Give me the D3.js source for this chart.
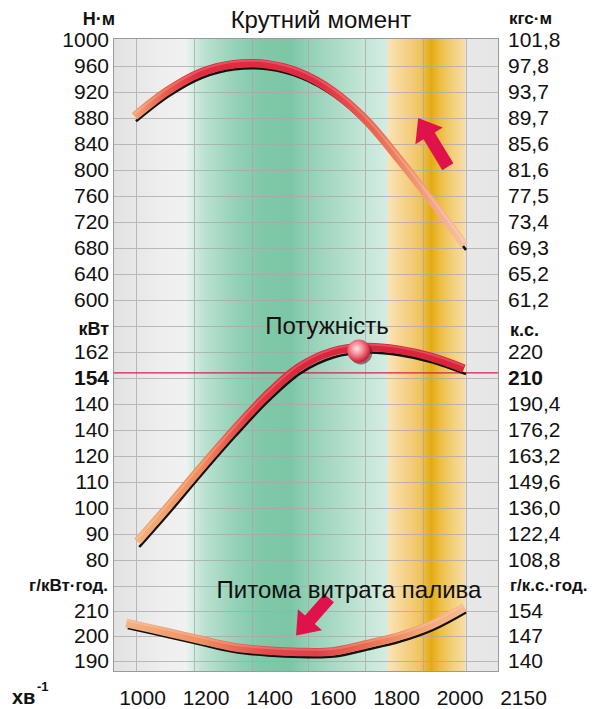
<!DOCTYPE html>
<html>
<head>
<meta charset="utf-8">
<script src="https://cdn.jsdelivr.net/npm/d3@7"></script>
<style>
  body { margin: 0; background: #fff; }
  svg { display: block; }
  text { font-family: "Liberation Sans", Arial, sans-serif; fill: #111; }
</style>
</head>
<body>
<svg id="chart" width="609" height="709"></svg>
<script>
// x axis
const rpmLabels = ['1000', '1200', '1400', '1600', '1800', '2000', '2150'];
const gridRpm = [1000, 1175, 1350, 1520, 1695, 1870, 2000];

// torque, N·m
const torqueRpm = [1000, 1100, 1200, 1300, 1400, 1500, 1600, 1700, 1800, 1900, 2000];
const torqueNm = [875, 914, 942, 955, 955, 942, 914, 870, 810, 745, 677];
const torqueTicks = [1000, 960, 920, 880, 840, 800, 760, 720, 680, 640, 600];
const torqueLeft = ['1000', '960', '920', '880', '840', '800', '760', '720', '680', '640', '600'];
const torqueRight = ['101,8', '97,8', '93,7', '89,7', '85,6', '81,6', '77,5', '73,4', '69,3', '65,2', '61,2'];

// power, kW
const powerRpm = [1010, 1100, 1200, 1300, 1400, 1500, 1600, 1700, 1800, 1900, 2000];
const powerKw = [85, 98, 113, 127.5, 141, 152, 158, 159.8, 158.8, 156, 151.5];
const powerTicks = [160, 150, 140, 130, 120, 110, 100, 90, 80];
const powerLeft = ['162', '154', '140', '140', '120', '110', '100', '90', '80'];
const powerRight = ['220', '210', '190,4', '176,2', '163,2', '149,6', '136,0', '122,4', '108,8'];
const powerLimit = 152;
const powerPeak = [1675, 160.4];

// specific fuel consumption, g/kW·h
const fuelRpm = [975, 1100, 1200, 1300, 1400, 1500, 1600, 1700, 1800, 1900, 2000];
const fuelG = [203.2, 199.5, 196.5, 193.6, 192.2, 191.6, 191.8, 194.6, 197.8, 202.5, 209.5];
const fuelTicks = [210, 200, 190];
const fuelLeft = ['210', '200', '190'];
const fuelRight = ['154', '147', '140'];

const plot = { left: 113, right: 499, top: 38, bottom: 672 };

const svg = d3.select('#chart');
const defs = svg.append('defs');

const x = d3.scaleLinear().domain([1000, 2000]).range([136, 466]);
const xLab = d3.scalePoint().domain(rpmLabels).range([142, 523]);
const yT = d3.scaleLinear().domain([600, 1000]).range([300, 40]);
const yP = d3.scaleLinear().domain([80, 160]).range([560, 352]);
const yF = d3.scaleLinear().domain([190, 210]).range([661, 611]);

function hGradient(id, stops) {
  const g = defs.append('linearGradient')
    .attr('id', id)
    .attr('gradientUnits', 'userSpaceOnUse')
    .attr('x1', plot.left).attr('x2', plot.right)
    .attr('y1', 0).attr('y2', 0);
  g.selectAll('stop')
    .data(stops)
    .enter()
    .append('stop')
    .attr('offset', d => (x(d[0]) - plot.left) / (plot.right - plot.left))
    .attr('stop-color', d => d[1]);
}

// background zones
hGradient('bg', [
  [930, '#e2e2e2'], [1080, '#eeeeee'], [1150, '#f1f1f1'], [1170, '#d8efe5'],
  [1200, '#bfe3d3'], [1290, '#98d3ba'], [1380, '#7fc8a8'], [1470, '#7cc6a6'],
  [1520, '#92d0b5'], [1600, '#a9dac5'], [1690, '#c3e6d6'], [1760, '#d3ece2'],
  [1765, '#fbe3b6'], [1800, '#f7d797'], [1860, '#f0c462'], [1895, '#e3ab12'],
  [1920, '#edbd42'], [1965, '#f4d282'], [1995, '#f7dca5'], [2000, '#e8e8e8'],
  [2100, '#e6e6e6']
]);

hGradient('torqueRibbon', [
  [1000, '#f3a274'], [1100, '#e9584a'], [1200, '#e12b3f'], [1550, '#e02a3f'],
  [1720, '#ea6450'], [1850, '#f09670'], [2000, '#f7c2a2']
]);
hGradient('powerRibbon', [
  [1000, '#f4b47e'], [1200, '#ef8c5c'], [1350, '#e33a40'], [1500, '#dc263c'],
  [2000, '#d9243b']
]);
hGradient('fuelRibbon', [
  [975, '#f5b283'], [1200, '#ef9062'], [1400, '#e4484a'], [1550, '#e03f48'],
  [1700, '#ea6c50'], [1850, '#f2a072'], [2000, '#f6bb92']
]);

const ball = defs.append('radialGradient')
  .attr('id', 'ball').attr('cx', '0.42').attr('cy', '0.4').attr('r', '0.6');
ball.append('stop').attr('offset', 0).attr('stop-color', '#fde6e6');
ball.append('stop').attr('offset', 0.45).attr('stop-color', '#f48a94');
ball.append('stop').attr('offset', 1).attr('stop-color', '#c81a32');

svg.append('rect')
  .attr('x', plot.left).attr('y', plot.top)
  .attr('width', plot.right - plot.left)
  .attr('height', plot.bottom - plot.top)
  .attr('fill', 'url(#bg)');

// grid
const grid = svg.append('g').attr('stroke', '#a8a8a8').attr('stroke-width', 1).attr('opacity', 0.75);
grid.selectAll('.vx')
  .data(gridRpm)
  .enter()
  .append('line')
  .attr('x1', d => Math.round(x(d)) + 0.5).attr('x2', d => Math.round(x(d)) + 0.5)
  .attr('y1', plot.top).attr('y2', plot.bottom);

const hLines = torqueTicks.slice(1).map(d => yT(d))
  .concat([170].concat(powerTicks, [70]).map(d => yP(d)))
  .concat(fuelTicks.map(d => yF(d)));
grid.selectAll('.hy')
  .data(hLines)
  .enter()
  .append('line')
  .attr('x1', plot.left).attr('x2', plot.right)
  .attr('y1', d => Math.round(d) + 0.5).attr('y2', d => Math.round(d) + 0.5);

svg.append('line')
  .attr('x1', plot.left).attr('x2', plot.right)
  .attr('y1', yP(powerLimit)).attr('y2', yP(powerLimit))
  .attr('stroke', '#d42050').attr('stroke-width', 1.2);

function drawCurve(xs, ys, yScale, ribbon, dx, dy) {
  const pts = xs.map((d, i) => [d, ys[i]]);
  const line = d3.line()
    .x(d => x(d[0]))
    .y(d => yScale(d[1]))
    .curve(d3.curveCatmullRom);
  svg.append('path')
    .attr('d', line(pts))
    .attr('fill', 'none')
    .attr('stroke', '#111')
    .attr('stroke-width', 2.6);
  svg.append('path')
    .attr('d', line(pts))
    .attr('transform', 'translate(' + dx + ',' + dy + ')')
    .attr('fill', 'none')
    .attr('stroke', 'url(#' + ribbon + ')')
    .attr('stroke-width', 8.5);
  // light upper edge of the ribbon
  svg.append('path')
    .attr('d', line(pts))
    .attr('transform', 'translate(' + dx + ',' + (dy - 2.5) + ')')
    .attr('fill', 'none')
    .attr('stroke', '#ffffff')
    .attr('stroke-opacity', 0.18)
    .attr('stroke-width', 2);
}

drawCurve(torqueRpm, torqueNm, yT, 'torqueRibbon', -1.5, -5);
drawCurve(powerRpm, powerKw, yP, 'powerRibbon', -2, -5.5);
drawCurve(fuelRpm, fuelG, yF, 'fuelRibbon', -1.5, -5);

// power peak marker
svg.append('circle')
  .attr('cx', x(powerPeak[0]) + 2).attr('cy', yP(powerPeak[1]) + 2)
  .attr('r', 11.5).attr('fill', '#5a1020').attr('opacity', 0.55);
svg.append('circle')
  .attr('cx', x(powerPeak[0])).attr('cy', yP(powerPeak[1]))
  .attr('r', 11.5).attr('fill', 'url(#ball)');

// arrows
function arrow(from, to, yScale) {
  const x0 = x(from[0]), y0 = yScale(from[1]);
  const x1 = x(to[0]), y1 = yScale(to[1]);
  const len = Math.hypot(x1 - x0, y1 - y0);
  const ux = (x1 - x0) / len, uy = (y1 - y0) / len;
  const nx = -uy, ny = ux;
  const head = 21, hw = 16, sw = 6.5;
  const bx = x1 - ux * head, by = y1 - uy * head;
  const pts = [
    [x0 + nx * sw, y0 + ny * sw],
    [bx + nx * sw, by + ny * sw],
    [bx + nx * hw, by + ny * hw],
    [x1, y1],
    [bx - nx * hw, by - ny * hw],
    [bx - nx * sw, by - ny * sw],
    [x0 - nx * sw, y0 - ny * sw]
  ];
  svg.append('path')
    .attr('d', d3.line()(pts) + 'Z')
    .attr('fill', '#e0124c');
}
arrow([1945, 805], [1855, 880], yT);
arrow([1585, 215.2], [1485, 200.2], yF);

svg.append('rect')
  .attr('x', plot.left + 0.5).attr('y', plot.top + 0.5)
  .attr('width', plot.right - plot.left - 1)
  .attr('height', plot.bottom - plot.top - 1)
  .attr('fill', 'none')
  .attr('stroke', '#9a9a9a');

// axes
function sideAxis(scale, ticks, labels, side, bold) {
  const ax = side === 'left' ? d3.axisLeft(scale) : d3.axisRight(scale);
  ax.tickValues(ticks).tickSize(0).tickPadding(side === 'left' ? 4 : 9)
    .tickFormat((d, i) => labels[i]);
  const g = svg.append('g')
    .attr('transform', 'translate(' + (side === 'left' ? plot.left : plot.right) + ',0)')
    .call(ax);
  g.select('.domain').remove();
  g.selectAll('text')
    .style('font-size', '21px')
    .style('font-family', '"Liberation Sans", Arial, sans-serif')
    .attr('fill', '#111')
    .style('font-weight', (d, i) => labels[i] === bold ? 'bold' : 'normal');
}

sideAxis(yT, torqueTicks, torqueLeft, 'left');
sideAxis(yT, torqueTicks, torqueRight, 'right');
sideAxis(yP, powerTicks, powerLeft, 'left', '154');
sideAxis(yP, powerTicks, powerRight, 'right', '210');
sideAxis(yF, fuelTicks, fuelLeft, 'left');
sideAxis(yF, fuelTicks, fuelRight, 'right');

const xAxis = svg.append('g')
  .attr('transform', 'translate(0,' + plot.bottom + ')')
  .call(d3.axisBottom(xLab).tickSize(0).tickPadding(18));
xAxis.select('.domain').remove();
xAxis.selectAll('text')
  .style('font-size', '21px')
  .style('font-family', '"Liberation Sans", Arial, sans-serif')
  .attr('fill', '#111');

// titles and units
function label(txt, px, py, anchor, size, weight) {
  svg.append('text')
    .attr('x', px).attr('y', py)
    .attr('text-anchor', anchor)
    .style('font-size', size + 'px')
    .style('font-weight', weight || 'normal')
    .text(txt);
}
label('Крутний момент', 321, 28, 'middle', 24);
label('Потужність', 327, 334, 'middle', 24);
label('Питома витрата палива', 349, 598, 'middle', 24);

label('Н·м', 115, 25, 'end', 18, 'bold');
label('кгс·м', 509, 24, 'start', 17, 'bold');
label('кВт', 109, 335, 'end', 18, 'bold');
label('к.с.', 510, 336, 'start', 18, 'bold');
label('г/кВт·год.', 108, 591, 'end', 17, 'bold');
label('г/к.с.·год.', 510, 591, 'start', 17, 'bold');

label('хв', 12, 704, 'start', 20, 'bold');
label('-1', 37, 691, 'start', 13, 'bold');
</script>
</body>
</html>
